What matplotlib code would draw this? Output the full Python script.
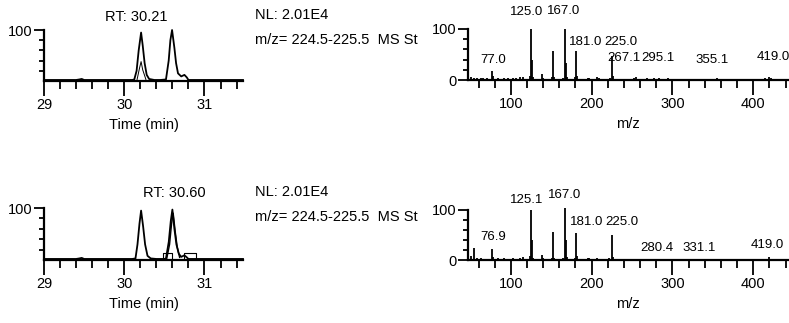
import matplotlib
matplotlib.use("Agg")
import matplotlib.pyplot as plt
from matplotlib.ticker import MultipleLocator, FixedLocator

# ---------------- data ----------------
# chromatogram traces (time in min, relative intensity %)
chrom1_time = [29.0, 29.2, 29.4, 29.44, 29.47, 29.5, 29.6, 29.9, 30.1, 30.125, 30.154, 30.18, 30.21,
               30.23, 30.254, 30.28, 30.31, 30.375, 30.45, 30.52, 30.554, 30.575, 30.596, 30.625,
               30.646, 30.67, 30.71, 30.75, 30.78, 30.80, 30.9, 31.2, 31.48]
chrom1_int = [2, 2, 2, 3, 4, 2, 2, 2, 2, 3, 20, 60, 95,
              70, 35, 12, 4, 2, 2, 3, 40, 80, 100, 65,
              35, 15, 9, 12, 7, 2, 2, 2, 2]
chrom1_inner_time = [30.16, 30.19, 30.21, 30.23, 30.27]
chrom1_inner_int = [3, 25, 38, 22, 3]

chrom2_time = [29.0, 29.2, 29.4, 29.44, 29.47, 29.5, 29.6, 29.9, 30.1, 30.14, 30.165, 30.19, 30.21,
               30.235, 30.26, 30.29, 30.33, 30.4, 30.5, 30.52, 30.555, 30.58, 30.60, 30.625,
               30.65, 30.68, 30.71, 30.75, 30.78, 30.80, 30.9, 31.2, 31.48]
chrom2_int = [2, 2, 2, 3, 4, 2, 2, 2, 2, 3, 30, 70, 95,
              65, 30, 8, 3, 2, 2, 3, 35, 75, 97, 60,
              30, 12, 6, 9, 5, 2, 2, 2, 2]
chrom2_alt_time = [30.53, 30.565, 30.59, 30.61, 30.635, 30.66, 30.69]
chrom2_alt_int = [3, 30, 70, 90, 55, 25, 5]
chrom2_box_start = [30.48, 30.75]
chrom2_box_end = [30.60, 30.90]
chrom2_box_height = [13, 13]

rt_labels = ["RT: 30.21", "RT: 30.60"]
rt_label_pos = [(30.15, 126), (30.625, 128)]
nl_text = "NL: 2.01E4"
mz_text = "m/z= 224.5-225.5  MS St"

# mass spectra (m/z, relative abundance %)
spec1_mz = [51, 55, 58, 63, 65, 70, 77, 78, 84, 91, 97, 103, 107, 111, 115, 124, 125, 126, 127,
            139, 140, 151, 152, 154, 165, 167, 168, 169, 180, 181, 182, 195, 197, 207, 209, 223,
            225, 226, 240, 252, 255, 258, 268, 277, 283, 295, 307, 330, 355, 415, 419, 422]
spec1_int = [5, 4, 3, 4, 3, 3, 18, 8, 4, 3, 3, 4, 3, 5, 6, 8, 100, 40, 5,
             12, 4, 5, 57, 5, 4, 100, 33, 6, 5, 57, 8, 4, 4, 5, 3, 4,
             48, 8, 2, 3, 6, 2, 3, 3, 3, 3, 2, 2, 3, 4, 6, 3]
spec1_labels = ["125.0", "167.0", "181.0", "225.0", "77.0", "267.1", "295.1", "355.1", "419.0"]
spec1_label_x = [119.8, 165.7, 192.5, 236.0, 77.7, 240.0, 282.5, 349.0, 424.5]
spec1_label_y = [134, 136, 74, 74, 40, 44, 44, 40, 46]

spec2_mz = [51, 55, 58, 63, 65, 70, 77, 78, 84, 91, 97, 103, 107, 111, 115, 124, 125, 126, 127,
            139, 140, 151, 152, 154, 165, 167, 168, 169, 180, 181, 182, 195, 197, 207, 209, 221,
            225, 226, 228, 240, 262, 270, 280, 290, 300, 331, 355, 419, 422]
spec2_int = [8, 25, 4, 5, 3, 3, 22, 6, 4, 4, 3, 4, 3, 5, 6, 8, 100, 40, 5,
             10, 4, 5, 57, 5, 4, 104, 40, 6, 5, 55, 8, 4, 4, 5, 3, 5,
             50, 6, 3, 2, 2, 2, 3, 3, 2, 2, 2, 6, 2]
spec2_labels = ["125.1", "167.0", "181.0", "225.0", "76.9", "280.4", "331.1", "419.0"]
spec2_label_x = [119.8, 167.0, 194.0, 237.5, 77.7, 281.0, 333.0, 417.0]
spec2_label_y = [120, 130, 76, 76, 46, 24, 24, 30]

# ---------------- style ----------------
plt.rcParams["font.family"] = ["Liberation Sans", "DejaVu Sans"]
FS = 10.5
FS_PEAK = 9.5

W, H = 789, 323
fig = plt.figure(figsize=(W / 100, H / 100), dpi=100)
fig.patch.set_facecolor("white")


def px_axes(x0, x1, y_top, y_bot):
    return fig.add_axes([x0 / W, 1 - y_bot / H, (x1 - x0) / W, (y_bot - y_top) / H])


def style_axes(ax, xlabel, show_zero):
    for s in ("top", "right"):
        ax.spines[s].set_visible(False)
    for s in ("left", "bottom"):
        ax.spines[s].set_linewidth(1.6)
        ax.spines[s].set_color("black")
    ax.set_ylim(0, 100)
    ax.yaxis.set_major_locator(FixedLocator([0, 100] if show_zero else [100]))
    ax.yaxis.set_minor_locator(FixedLocator([20, 40, 60, 80]))
    ax.tick_params(axis="y", which="major", length=7, width=1.3, pad=1, labelsize=FS)
    ax.tick_params(axis="y", which="minor", length=3.5, width=1.3)
    ax.tick_params(axis="x", which="major", direction="out", length=10.5, width=1.3, pad=2, labelsize=FS)
    ax.tick_params(axis="x", which="minor", direction="out", length=5.5, width=1.3)
    ax.set_xlabel(xlabel, fontsize=FS, labelpad=4)
    ax.set_facecolor("none")


def chrom(ax, t, y, rtlab, rtpos):
    ax.plot(t, y, color="black", lw=1.3, clip_on=False)
    ax.set_xlim(29.0, 31.48)
    ax.xaxis.set_major_locator(FixedLocator([29, 30, 31]))
    ax.xaxis.set_minor_locator(MultipleLocator(0.2))
    style_axes(ax, "Time (min)", False)
    ax.text(rtpos[0], rtpos[1], rtlab, ha="center", va="center", fontsize=FS, clip_on=False)


def spectrum(ax, mz, inten, labels, lx, ly):
    ax.vlines(mz, 0, inten, color="black", lw=1.3, clip_on=False)
    ax.set_xlim(47, 443)
    ax.xaxis.set_major_locator(FixedLocator([100, 200, 300, 400]))
    ax.xaxis.set_minor_locator(MultipleLocator(20))
    style_axes(ax, "m/z", True)
    for lab, x, y in zip(labels, lx, ly):
        ax.text(x, y, lab, ha="center", va="center", fontsize=FS_PEAK, clip_on=False)


# top row
ax1 = px_axes(44, 243, 30, 81)
chrom(ax1, chrom1_time, chrom1_int, rt_labels[0], rt_label_pos[0])
ax1.plot(chrom1_inner_time, chrom1_inner_int, color="black", lw=0.7)
ax2 = px_axes(468, 788, 29, 80)
spectrum(ax2, spec1_mz, spec1_int, spec1_labels, spec1_label_x, spec1_label_y)

# bottom row
ax3 = px_axes(44, 243, 208, 260)
chrom(ax3, chrom2_time, chrom2_int, rt_labels[1], rt_label_pos[1])
ax3.plot(chrom2_alt_time, chrom2_alt_int, color="black", lw=1.0)
for s, e, h in zip(chrom2_box_start, chrom2_box_end, chrom2_box_height):
    ax3.plot([s, s, e, e], [0, h, h, 0], color="black", lw=0.8)
ax4 = px_axes(468, 788, 210, 260)
spectrum(ax4, spec2_mz, spec2_int, spec2_labels, spec2_label_x, spec2_label_y)

# NL / filter text
fig.text(255 / W, 1 - 15 / H, nl_text, ha="left", va="center", fontsize=FS)
fig.text(255 / W, 1 - 40 / H, mz_text, ha="left", va="center", fontsize=FS)
fig.text(255 / W, 1 - 192 / H, nl_text, ha="left", va="center", fontsize=FS)
fig.text(255 / W, 1 - 217 / H, mz_text, ha="left", va="center", fontsize=FS)

fig.savefig("out.png", dpi=100, facecolor="white")
